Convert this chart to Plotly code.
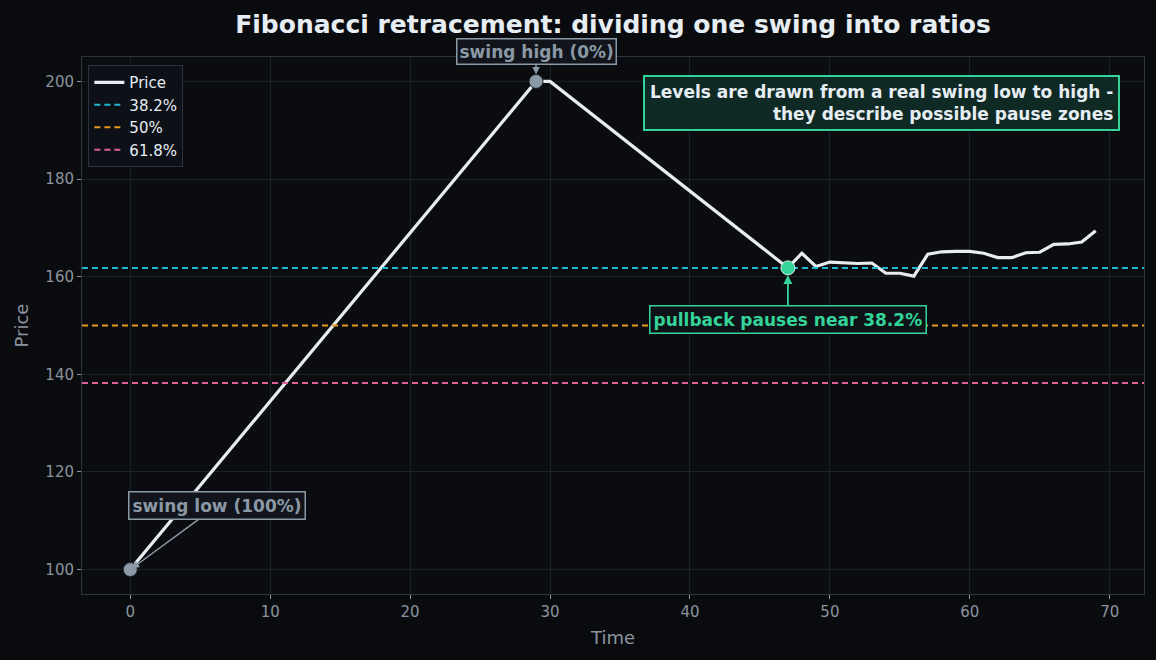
import plotly.graph_objects as go

# ---- data ----
time = list(range(70))
price = [100.0, 103.45, 106.9, 110.34, 113.79, 117.24, 120.69, 124.14, 127.59, 131.03,
         134.48, 137.93, 141.38, 144.83, 148.28, 151.72, 155.17, 158.62, 162.07, 165.52,
         168.97, 172.41, 175.86, 179.31, 182.76, 186.21, 189.66, 193.1, 196.55, 200.0,
         200.0, 197.75, 195.51, 193.26, 191.01, 188.76, 186.52, 184.27, 182.02, 179.78,
         177.53, 175.28, 173.04, 170.79, 168.54, 166.29, 164.05, 161.8,
         164.8, 162.1, 163.0, 162.8, 162.7, 162.8, 160.7, 160.7, 160.1, 164.6,
         165.1, 165.2, 165.2, 164.8, 163.9, 163.9, 164.9, 165.0, 166.6, 166.7,
         167.1, 169.4]
swing_low = (0, 100.0)
swing_high = (29, 200.0)
pullback = (47, 161.8)
level_names = ["38.2%", "50%", "61.8%"]
level_values = [161.8, 150.0, 138.2]
level_colors = ["#22b8cf", "#e8961c", "#e0609a"]
x_range = [-3.45, 72.45]
y_range = [95.0, 205.0]
x_ticks = [0, 10, 20, 30, 40, 50, 60, 70]
y_ticks = [100, 120, 140, 160, 180, 200]

BG = "#0a0b0e"
GRID = "#1a212b"
SPINE = "#2a3441"
TICK = "#8b949e"
TXT = "#e6edf3"
GREEN = "#34d399"
GRAY = "#8b98a5"
FONT = "DejaVu Sans"

fig = go.Figure()
fig.add_trace(go.Scatter(x=time, y=price, mode="lines", name="Price",
                         line=dict(color="#e8ecf2", width=3.2)))
for n, v, c in zip(level_names, level_values, level_colors):
    fig.add_trace(go.Scatter(x=x_range, y=[v, v], mode="lines", name=n,
                             line=dict(color=c, width=2, dash="6px,4px")))

fig.add_trace(go.Scatter(x=[swing_low[0], swing_high[0]], y=[swing_low[1], swing_high[1]],
                         mode="markers", showlegend=False,
                         marker=dict(size=14, color=GRAY, line=dict(color="#1c232c", width=1))))
fig.add_trace(go.Scatter(x=[pullback[0]], y=[pullback[1]], mode="markers", showlegend=False,
                         marker=dict(size=14, color=GREEN, line=dict(color="#d8f5ea", width=1))))

ann_font_gray = dict(family=FONT, size=17, color=GRAY)
fig.add_annotation(x=swing_high[0], y=swing_high[1], text="<b>swing high (0%)</b>",
                   ax=0, ay=-30, font=ann_font_gray, bgcolor="#11151b",
                   bordercolor=GRAY, borderwidth=1.5, borderpad=2,
                   showarrow=True, arrowhead=2, arrowsize=1, arrowwidth=1.5,
                   arrowcolor=GRAY, standoff=7)
fig.add_annotation(x=swing_low[0], y=swing_low[1], text="<b>swing low (100%)</b>",
                   ax=87, ay=-64, font=ann_font_gray, bgcolor="#11151b",
                   bordercolor=GRAY, borderwidth=1.5, borderpad=3,
                   showarrow=True, arrowhead=2, arrowsize=1, arrowwidth=1.5,
                   arrowcolor=GRAY, standoff=2)
fig.add_annotation(x=pullback[0], y=pullback[1], text="<b>pullback pauses near 38.2%</b>",
                   ax=0, ay=52, font=dict(family=FONT, size=17, color=GREEN),
                   bgcolor="#0e1216", bordercolor=GREEN, borderwidth=1.5, borderpad=3,
                   showarrow=True, arrowhead=2, arrowsize=1, arrowwidth=1.8,
                   arrowcolor=GREEN, standoff=7)
fig.add_annotation(xref="paper", yref="paper", x=0.977, y=0.966, xanchor="right", yanchor="top",
                   text="<b>Levels are drawn from a real swing low to high -<br>they describe possible pause zones</b>",
                   align="right", showarrow=False,
                   font=dict(family=FONT, size=17, color=TXT),
                   bgcolor="#0f2a24", bordercolor=GREEN, borderwidth=2, borderpad=5)

fig.update_layout(
    width=1156, height=660,
    margin=dict(l=82, r=12, t=57, b=66),
    paper_bgcolor=BG, plot_bgcolor="#0b0c10",
    font=dict(family=FONT, color=TICK, size=15),
    title=dict(text="<b>Fibonacci retracement: dividing one swing into ratios</b>",
               x=0.5303, xanchor="center", y=0.963, yanchor="middle",
               font=dict(family=FONT, size=25, color=TXT)),
    showlegend=True,
    legend=dict(x=0.006, y=0.985, xanchor="left", yanchor="top",
                bgcolor="#0d1117", bordercolor=SPINE, borderwidth=1,
                font=dict(family=FONT, size=15, color=TXT), tracegroupgap=0,
                itemwidth=30),
)
fig.update_xaxes(range=x_range, tickvals=x_ticks, showgrid=True, gridcolor=GRID, gridwidth=1,
                 zeroline=False, showline=True, linecolor=SPINE, linewidth=1, mirror=True,
                 ticks="outside", ticklen=4, tickcolor=TICK, tickfont=dict(size=15, color=TICK),
                 title=dict(text="Time", font=dict(size=18, color=TICK), standoff=11))
fig.update_yaxes(range=y_range, tickvals=y_ticks, showgrid=True, gridcolor=GRID, gridwidth=1,
                 zeroline=False, showline=True, linecolor=SPINE, linewidth=1, mirror=True,
                 ticks="outside", ticklen=4, tickcolor=TICK, tickfont=dict(size=15, color=TICK),
                 title=dict(text="Price", font=dict(size=18, color=TICK), standoff=12))

fig.write_html("out.html")
